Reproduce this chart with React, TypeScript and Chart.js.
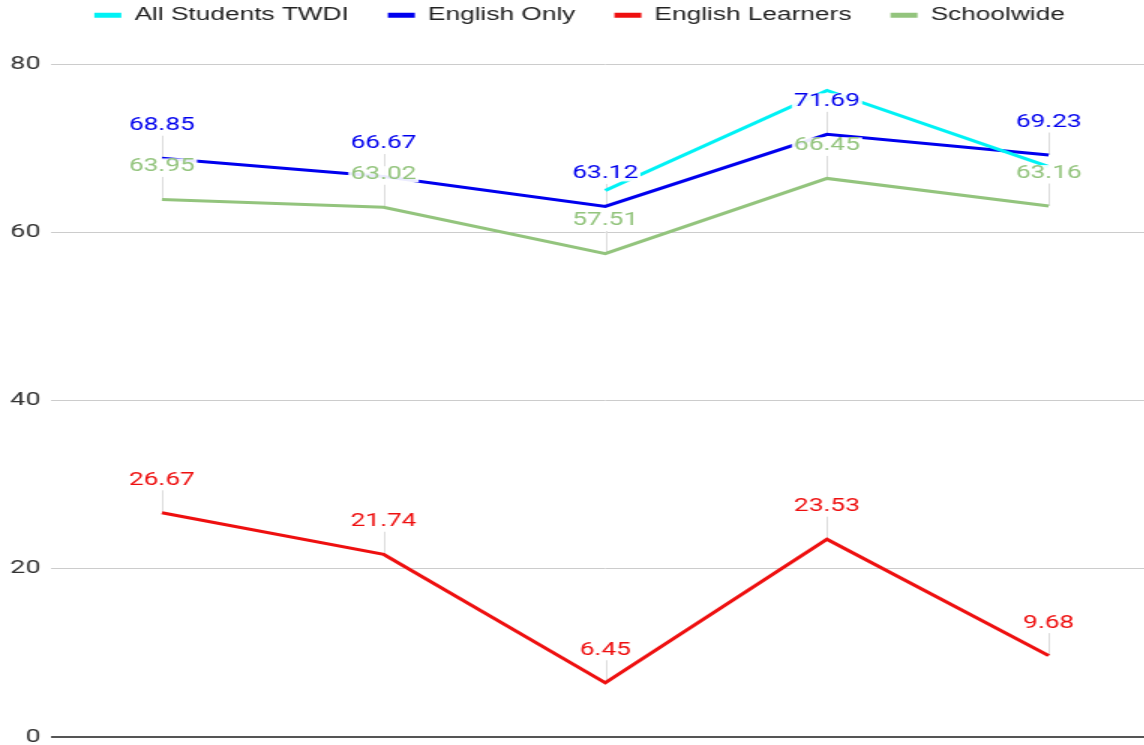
import { useEffect, useRef } from 'react';
import { Chart, registerables } from 'chart.js';

Chart.register(...registerables);

// ---- data ----
const categories = ['1', '2', '3', '4', '5'];
const seriesNames = ['All Students TWDI', 'English Only', 'English Learners', 'Schoolwide'];
const allStudentsTWDI: (number | null)[] = [null, null, 65.0, 76.92, 67.86];
const englishOnly = [68.85, 66.67, 63.12, 71.69, 69.23];
const englishLearners = [26.67, 21.74, 6.45, 23.53, 9.68];
const schoolwide = [63.95, 63.02, 57.51, 66.45, 63.16];
const yTicks = [0, 20, 40, 60, 80];
const seriesColors = ['#00f2f5', '#0000ee', '#ee0f0f', '#93c47d'];
const labelledSeries = [false, true, true, true];

const SCALE_X = 1.5;
const CANVAS_W = 773;
const CANVAS_H = 745;

export default function App() {
  const ref = useRef<HTMLCanvasElement>(null);

  useEffect(() => {
    const canvas = ref.current;
    if (!canvas) return;

    const legendSpacer = {
      id: 'legendSpacer',
      beforeInit(chart: any) {
        const legend = chart.legend;
        if (!legend) return;
        const orig = legend.fit;
        legend.fit = function () {
          orig.call(this);
          this.height += 30.5;
        };
      },
    };

    const dataLabels = {
      id: 'dataLabels',
      beforeDatasetsDraw(chart: any) {
        const ctx = chart.ctx;
        ctx.save();
        ctx.strokeStyle = '#dcdcdc';
        ctx.lineWidth = 1;
        chart.data.datasets.forEach((ds: any, di: number) => {
          if (!labelledSeries[di]) return;
          const meta = chart.getDatasetMeta(di);
          meta.data.forEach((pt: any, i: number) => {
            if (ds.data[i] == null) return;
            const x = Math.round(pt.x) + 0.5;
            ctx.beginPath();
            ctx.moveTo(x, pt.y);
            ctx.lineTo(x, pt.y - 33 + 10.5);
            ctx.stroke();
          });
        });
        ctx.restore();
      },
      afterDatasetsDraw(chart: any) {
        const ctx = chart.ctx;
        ctx.save();
        ctx.font = '17.5px Roboto';
        ctx.textAlign = 'center';
        ctx.textBaseline = 'middle';
        chart.data.datasets.forEach((ds: any, di: number) => {
          if (!labelledSeries[di]) return;
          const meta = chart.getDatasetMeta(di);
          meta.data.forEach((pt: any, i: number) => {
            const v = ds.data[i];
            if (v == null) return;
            const text = Number(v).toFixed(2);
            const cy = pt.y - 33;
            const w = ctx.measureText(text).width;
            ctx.fillStyle = 'rgba(255,255,255,0.92)';
            ctx.fillRect(pt.x - w / 2 - 1.5, cy - 8, w + 3, 16);
            ctx.fillStyle = seriesColors[di];
            ctx.fillText(text, pt.x, cy + 0.5);
          });
        });
        ctx.restore();
      },
    };

    const seriesData = [allStudentsTWDI, englishOnly, englishLearners, schoolwide];

    const chart = new Chart(canvas, {
      type: 'line',
      data: {
        labels: categories,
        datasets: seriesNames.map((name, i) => ({
          label: name,
          data: seriesData[i] as any,
          borderColor: seriesColors[i],
          backgroundColor: seriesColors[i],
          borderWidth: 3,
          pointRadius: 0,
          pointHoverRadius: 0,
          tension: 0,
          fill: false,
          spanGaps: false,
        })),
      },
      options: {
        animation: false,
        responsive: false,
        maintainAspectRatio: false,
        events: [],
        layout: { padding: { top: -19.5, left: -0.2, right: 0, bottom: 8 } },
        plugins: {
          tooltip: { enabled: false },
          legend: {
            display: true,
            position: 'top',
            labels: {
              font: { family: '"Liberation Sans", Arial, sans-serif', size: 17.5 },
              color: '#222222',
              boxWidth: 18,
              boxHeight: 5,
              padding: 26,
              generateLabels: (c: any) =>
                (Chart.defaults.plugins.legend.labels.generateLabels as any)(c).map((l: any) => ({
                  ...l,
                  lineWidth: 0,
                })),
            },
          },
        },
        scales: {
          x: {
            type: 'category',
            display: false,
            offset: true,
          },
          y: {
            min: 0,
            max: 80,
            afterBuildTicks: (scale: any) => {
              scale.ticks = yTicks.map((v) => ({ value: v }));
            },
            ticks: {
              font: { family: 'Roboto', size: 18, lineHeight: 0.1 },
              color: '#333333',
              padding: 7,
            },
            grid: {
              drawTicks: false,
              color: (c: any) => (c.tick && c.tick.value === 0 ? '#555555' : '#cccccc'),
              lineWidth: (c: any) => (c.tick && c.tick.value === 0 ? 2 : 1),
            },
            border: { display: false },
          },
        },
      },
      plugins: [legendSpacer, dataLabels],
    });

    return () => chart.destroy();
  }, []);

  return (
    <div
      style={{
        position: 'fixed',
        left: 0,
        top: 0,
        width: 1144,
        height: 745,
        overflow: 'hidden',
        background: '#ffffff',
      }}
    >
      <div
        style={{
          width: CANVAS_W,
          height: CANVAS_H,
          transform: `scaleX(${SCALE_X})`,
          transformOrigin: '0 0',
        }}
      >
        <canvas ref={ref} width={CANVAS_W} height={CANVAS_H} style={{ display: 'block' }} />
      </div>
    </div>
  );
}
